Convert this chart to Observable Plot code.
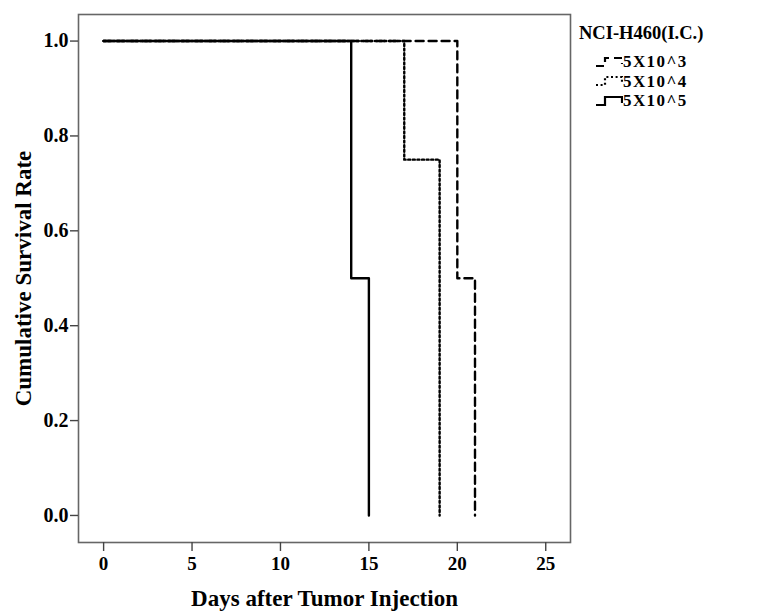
<!DOCTYPE html>
<html><head><meta charset="utf-8">
<script src="https://cdn.jsdelivr.net/npm/d3@7"></script>
<script src="https://cdn.jsdelivr.net/npm/@observablehq/plot@0.6"></script>
<style>
body{margin:0;background:#fff;}
#wrap{position:relative;width:763px;height:615px;}
#legend{position:absolute;left:579px;top:23px;font-family:"Liberation Serif",serif;font-weight:bold;color:#000;}
#legend .title{font-size:18.5px;line-height:20px;margin-bottom:9px;}
#legend .row{display:flex;align-items:center;height:19.5px;font-size:17px;line-height:19px;letter-spacing:1.4px;margin-left:15px;}
#legend svg{display:block;margin-right:0px;}
g[aria-label="y-axis tick label"] text{font-size:20px !important;}
g[aria-label="x-axis tick label"] text{font-size:19px !important;}
</style></head><body><div id="wrap"></div>
<script>
const legendTitle = "NCI-H460(I.C.)";
const groups = ["5X10^3", "5X10^4", "5X10^5"];
const days3 = [0, 20, 21];
const surv3 = [1, 0.5, 0];
const days4 = [0, 17, 19];
const surv4 = [1, 0.75, 0];
const days5 = [0, 14, 15];
const surv5 = [1, 0.5, 0];
const xTicks = [0, 5, 10, 15, 20, 25];
const yTicks = [0, 0.2, 0.4, 0.6, 0.8, 1.0];
const xLabel = "Days after Tumor Injection";
const yLabel = "Cumulative Survival Rate";

const dashes = ["8,5", "2,2.6", null];
const series = [[days3, surv3], [days4, surv4], [days5, surv5]];
const data = series.flatMap(([d, s], i) => d.map((day, j) => ({group: groups[i], day, surv: s[j]})));

const marks = [
  Plot.frame({stroke: "#666", strokeWidth: 1.6}),
  Plot.axisX({ticks: xTicks, tickSize: 9, tickPadding: 5, label: null, fontSize: 19, stroke: "#444", strokeWidth: 1.4}),
  Plot.axisY({ticks: yTicks, tickSize: 8, tickPadding: 2, label: null, fontSize: 20, tickFormat: d3.format(".1f"), stroke: "#444", strokeWidth: 1.4}),
];
groups.forEach((g, i) => {
  marks.push(Plot.line(data.filter(d => d.group === g), {
    x: "day", y: "surv", curve: "step-after", stroke: "#000", strokeWidth: 2.4,
    strokeDasharray: dashes[i] || undefined
  }));
});
marks.push(Plot.text([xLabel], {frameAnchor: "bottom", textAnchor: "middle", lineAnchor: "middle", dy: 56, fontSize: 23, fontWeight: "bold", fill: "#000"}));
marks.push(Plot.text([yLabel], {frameAnchor: "left", textAnchor: "middle", lineAnchor: "middle", rotate: -90, dx: -55, fontSize: 23, fontWeight: "bold", fill: "#000"}));

const chart = Plot.plot({
  width: 763, height: 615,
  marginLeft: 78, marginRight: 193, marginTop: 14, marginBottom: 73,
  x: {domain: [-1.42, 26.4]},
  y: {domain: [-0.057, 1.056]},
  style: {fontFamily: "'Liberation Serif', serif", fontWeight: "bold", fontSize: "19px", color: "#000", background: "#fff"},
  marks
});
const wrap = document.getElementById("wrap");
wrap.appendChild(chart);

const legend = document.createElement("div");
legend.id = "legend";
const t = document.createElement("div");
t.className = "title"; t.textContent = legendTitle;
legend.appendChild(t);
groups.forEach((g, i) => {
  const row = document.createElement("div");
  row.className = "row";
  const ns = "http://www.w3.org/2000/svg";
  const s = document.createElementNS(ns, "svg");
  s.setAttribute("width", 29); s.setAttribute("height", 14);
  const p = document.createElementNS(ns, "path");
  p.setAttribute("d", "M2,11H11V3H28V9");
  p.setAttribute("fill", "none"); p.setAttribute("stroke", "#000"); p.setAttribute("stroke-width", 2.2);
  if (dashes[i]) p.setAttribute("stroke-dasharray", dashes[i]);
  s.appendChild(p);
  row.appendChild(s);
  const sp = document.createElement("span"); sp.textContent = g;
  row.appendChild(sp);
  legend.appendChild(row);
});
wrap.appendChild(legend);
</script></body></html>
